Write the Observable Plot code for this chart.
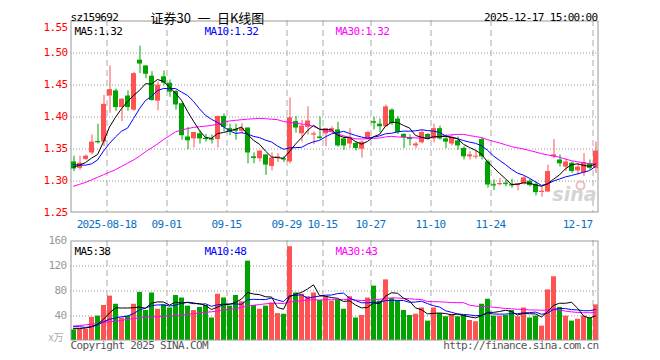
<!DOCTYPE html>
<html><head><meta charset="utf-8">
<script src="https://cdn.jsdelivr.net/npm/d3@7"></script>
<script src="https://cdn.jsdelivr.net/npm/@observablehq/plot@0.6"></script>
<style>
body{margin:0;background:#fff;}
#wrap{position:relative;width:660px;height:360px;overflow:hidden;background:#fff;}
#wrap svg{position:absolute;left:0;}
</style></head><body><div id="wrap"></div>
<script>
// ---------- data ----------
const dates = [
"2025-08-08","2025-08-11","2025-08-12","2025-08-13","2025-08-14","2025-08-15","2025-08-18","2025-08-19","2025-08-20","2025-08-21","2025-08-22","2025-08-25","2025-08-26","2025-08-27","2025-08-28","2025-08-29",
"2025-09-01","2025-09-02","2025-09-03","2025-09-04","2025-09-05","2025-09-08","2025-09-09","2025-09-10","2025-09-11","2025-09-12","2025-09-15","2025-09-16","2025-09-17","2025-09-18","2025-09-19","2025-09-22","2025-09-23","2025-09-24","2025-09-25","2025-09-26","2025-09-29","2025-09-30",
"2025-10-09","2025-10-10","2025-10-13","2025-10-14","2025-10-15","2025-10-16","2025-10-17","2025-10-20","2025-10-21","2025-10-22","2025-10-23","2025-10-24","2025-10-27","2025-10-28","2025-10-29","2025-10-30","2025-10-31",
"2025-11-03","2025-11-04","2025-11-05","2025-11-06","2025-11-07","2025-11-10","2025-11-11","2025-11-12","2025-11-13","2025-11-14","2025-11-17","2025-11-18","2025-11-19","2025-11-20","2025-11-21","2025-11-24","2025-11-25","2025-11-26","2025-11-27","2025-11-28",
"2025-12-01","2025-12-02","2025-12-03","2025-12-04","2025-12-05","2025-12-08","2025-12-09","2025-12-10","2025-12-11","2025-12-12","2025-12-15","2025-12-16","2025-12-17"];

const open = [1.329,1.319,1.333,1.343,1.361,1.360,1.432,1.440,1.414,1.432,
1.410,1.488,1.479,1.463,1.424,1.462,1.452,1.439,1.420,1.368,
1.365,1.373,1.366,1.365,1.364,1.400,1.381,1.380,1.377,1.382,
1.337,1.334,1.340,1.322,1.335,1.334,1.329,1.392,1.373,1.383,
1.371,1.368,1.373,1.377,1.379,1.365,1.357,1.358,1.349,1.365,
1.392,1.388,1.384,1.410,1.396,1.372,1.367,1.354,1.359,1.372,
1.365,1.381,1.365,1.357,1.362,1.350,1.337,1.338,1.364,1.329,
1.294,1.294,1.296,1.294,1.292,1.295,1.299,1.294,1.282,1.282,
1.337,1.332,1.321,1.327,1.315,1.312,1.326,1.319];

const high = [1.338,1.338,1.340,1.371,1.388,1.433,1.479,1.443,1.428,1.440,
1.469,1.510,1.479,1.470,1.454,1.471,1.457,1.441,1.420,1.383,
1.375,1.378,1.372,1.371,1.401,1.404,1.388,1.388,1.389,1.382,
1.343,1.346,1.340,1.343,1.342,1.337,1.429,1.400,1.394,1.415,
1.376,1.399,1.381,1.384,1.391,1.368,1.381,1.360,1.362,1.377,
1.399,1.396,1.418,1.412,1.400,1.373,1.371,1.360,1.379,1.373,
1.388,1.385,1.371,1.371,1.368,1.353,1.345,1.347,1.367,1.332,
1.301,1.303,1.300,1.302,1.295,1.306,1.302,1.298,1.290,1.324,
1.364,1.340,1.334,1.329,1.327,1.342,1.332,1.360];

const low = [1.314,1.316,1.331,1.340,1.357,1.353,1.405,1.408,1.392,1.408,
1.408,1.467,1.459,1.424,1.409,1.448,1.430,1.410,1.363,1.348,
1.351,1.357,1.360,1.357,1.351,1.376,1.370,1.363,1.373,1.326,
1.326,1.329,1.308,1.315,1.328,1.328,1.326,1.374,1.360,1.371,
1.356,1.363,1.353,1.374,1.352,1.347,1.350,1.346,1.335,1.363,
1.379,1.375,1.383,1.386,1.372,1.350,1.354,1.350,1.357,1.363,
1.359,1.363,1.350,1.354,1.347,1.332,1.332,1.333,1.332,1.288,
1.284,1.292,1.290,1.288,1.284,1.293,1.290,1.276,1.274,1.281,
1.334,1.321,1.314,1.311,1.308,1.306,1.316,1.311];

const close = [1.318,1.327,1.338,1.360,1.359,1.419,1.442,1.414,1.427,1.414,
1.467,1.482,1.466,1.425,1.449,1.452,1.438,1.418,1.370,1.362,
1.375,1.365,1.364,1.363,1.400,1.383,1.377,1.377,1.381,1.343,
1.336,1.346,1.324,1.335,1.337,1.332,1.398,1.382,1.385,1.393,
1.373,1.367,1.381,1.381,1.354,1.354,1.366,1.350,1.360,1.375,
1.391,1.384,1.415,1.389,1.375,1.367,1.364,1.357,1.375,1.364,
1.381,1.365,1.360,1.367,1.354,1.337,1.340,1.338,1.337,1.293,
1.293,1.295,1.295,1.293,1.295,1.304,1.292,1.281,1.283,1.314,
1.340,1.326,1.329,1.314,1.321,1.328,1.319,1.346];

const volume = [17,19,18,37,39,56,71,58,36,39,
58,77,48,76,50,57,52,72,68,55,
48,53,56,36,74,68,55,72,62,127,
56,50,55,60,43,42,150,76,74,70,
76,64,70,63,65,50,70,36,40,68,
87,63,97,67,64,48,40,42,52,31,
52,43,38,41,38,40,32,30,58,66,
39,39,40,48,38,52,36,39,23,81,
102,53,39,31,34,39,36,57];

// moving-average values before a full window exists
const ma5Lead  = [1.321,1.324,1.328,1.335];
const ma10Lead = [1.325,1.324,1.324,1.326,1.332,1.346,1.358,1.368,1.377];
const ma30Lead = [1.291,1.294,1.297,1.301,1.305,1.309,1.313,1.317,1.322,1.327,
1.332,1.338,1.345,1.351,1.357,1.364,1.370,1.376,1.379,1.381,
1.383,1.384,1.385,1.386,1.388,1.391,1.393,1.394,1.395];
const vma5Lead  = [19,19,20,22];
const vma10Lead = [22,22,21,22,25,30,34,36,38];
const vma30Lead = [23,24,25,26,27,29,30,31,32,34,35,36,37,38,38,39,39,40,41,42,43,44,45,46,47,49,50,51,53];

const priceTicks = [1.25,1.30,1.35,1.40,1.45,1.50,1.55];
const priceGrid  = [1.30,1.35,1.40,1.45,1.50];
const volTicks = [40,80,120,160];
const volGrid  = [40,80,120];
const tickDates  = ["2025-08-18","2025-09-01","2025-09-15","2025-09-29","2025-10-15","2025-10-27","2025-11-10","2025-11-24","2025-12-17"];
const tickLabels = ["2025-08-18","09-01","09-15","09-29","10-15","10-27","11-10","11-24","12-17"];

const code = "sz159692";
const title = "证券30\u2002一\u2002日K线图";
const stamp = "2025-12-17 15:00:00";
const priceLegend = ["MA5:1.32","MA10:1.32","MA30:1.32"];
const volLegend = ["MA5:38","MA10:48","MA30:43"];
const volUnit = "x万";
const copyright = "Copyright 2025 SINA.COM";
const url = "http://finance.sina.com.cn";

// ---------- build ----------
const RED = "#ff5252", GREEN = "#00a300";
const legendColors = ["#000000","#0000ff","#ff00ff"];
const legendDx = [4, 134, 265];
const MONO = "DejaVu Sans Mono";

function rolling(vals, n, lead) {
  return vals.map((_, i) => i < n - 1 ? lead[i] : d3.mean(vals.slice(i - n + 1, i + 1)));
}
const ma5 = rolling(close, 5, ma5Lead), ma10 = rolling(close, 10, ma10Lead), ma30 = rolling(close, 30, ma30Lead);
const vma5 = rolling(volume, 5, vma5Lead), vma10 = rolling(volume, 10, vma10Lead), vma30 = rolling(volume, 30, vma30Lead);

const rows = dates.map((d, i) => ({
  i, date: d, o: open[i], h: high[i], l: low[i], c: close[i], v: volume[i],
  ma5: ma5[i], ma10: ma10[i], ma30: ma30[i], vma5: vma5[i], vma10: vma10[i], vma30: vma30[i],
  col: close[i] >= open[i] ? RED : GREEN
}));
const dojis = rows.filter(d => Math.abs(d.o - d.c) < 0.002);
const ticks = tickDates.map((d, k) => ({i: dates.indexOf(d), label: tickLabels[k]}));
const N = dates.length;

const baseStyle = {background: "transparent", overflow: "visible", fontFamily: MONO, fontSize: "11px", letterSpacing: "-0.65px", color: "#000"};

const main = Plot.plot({
  width: 660, height: 236,
  marginLeft: 70, marginRight: 62, marginTop: 20, marginBottom: 24,
  x: {domain: [0, N], axis: null},
  y: {domain: [1.25, 1.55], axis: null},
  color: {type: "identity"},
  style: baseStyle,
  marks: [
    Plot.ruleY(priceGrid, {y: d => d, stroke: "#999", strokeDasharray: "1,2", dy: 0.5}),
    Plot.ruleX(ticks, {x: "i", stroke: "#aaa", strokeDasharray: "6,4", dx: 0.5}),
    Plot.frame({stroke: "#999", inset: 0.5}),
    Plot.text(["sina"], {frameAnchor: "bottom-right", dx: -2, dy: -12, textAnchor: "end", fontSize: 19, fontWeight: "bold", fontStyle: "italic", fontFamily: "DejaVu Sans", fill: "#d4d4d4"}),
    Plot.dot([0], {frameAnchor: "bottom-right", dx: -18, dy: -27, r: 4, stroke: "#e7c0c0", strokeWidth: 2, fill: "none"}),
    Plot.ruleX(rows, {x: d => d.i + 0.5, y1: "l", y2: "h", stroke: "col", dx: 0.5}),
    Plot.rect(rows, {x1: d => d.i + 1/6, x2: d => d.i + 1, y1: d => Math.min(d.o, d.c), y2: d => Math.max(d.o, d.c), fill: "col"}),
    Plot.ruleY(dojis, {y: "c", x1: d => d.i + 1/6, x2: d => d.i + 1, stroke: "col"}),
    Plot.line(rows, {x: d => d.i + 0.5, y: "ma30", stroke: "#ff00ff", strokeWidth: 1}),
    Plot.line(rows, {x: d => d.i + 0.5, y: "ma10", stroke: "#0000ff", strokeWidth: 1}),
    Plot.line(rows, {x: d => d.i + 0.5, y: "ma5", stroke: "#000000", strokeWidth: 1}),
    // price labels
    Plot.text(priceTicks.slice(0, -1), {y: d => d, text: d => d.toFixed(2), frameAnchor: "left", dx: -3, textAnchor: "end", fill: "#ff0000"}),
    Plot.text(priceTicks.slice(-1), {y: d => d, text: d => d.toFixed(2), frameAnchor: "left", dx: -3, dy: 7, textAnchor: "end", fill: "#ff0000"}),
    // date labels
    Plot.text(ticks.slice(0, -1), {x: "i", text: "label", frameAnchor: "bottom", dy: 15, fill: "#0a6fc2"}),
    Plot.text(ticks.slice(-1), {x: "i", text: "label", frameAnchor: "bottom", dy: 15, textAnchor: "end", fill: "#0a6fc2"}),
    // legend
    ...priceLegend.map((t, k) => Plot.text([t], {frameAnchor: "top-left", dx: legendDx[k], dy: 7, textAnchor: "start", fill: legendColors[k]})),
    // header
    Plot.text([code], {frameAnchor: "top-left", dy: -7, textAnchor: "start", fill: "#000"}),
    Plot.text([title], {frameAnchor: "top-left", dx: 80, dy: -7, textAnchor: "start", fill: "#000", fontFamily: "Noto Sans CJK SC", fontSize: 13}),
    Plot.text([stamp], {frameAnchor: "top-right", dx: -1, dy: -7, textAnchor: "end", fill: "#000"})
  ]
});

const vol = Plot.plot({
  width: 660, height: 124,
  marginLeft: 70, marginRight: 62, marginTop: 4, marginBottom: 20,
  x: {domain: [0, N], axis: null},
  y: {domain: [0, 160], axis: null},
  color: {type: "identity"},
  style: baseStyle,
  marks: [
    Plot.ruleY(volGrid, {y: d => d, stroke: "#999", strokeDasharray: "1,2", dy: 0.5}),
    Plot.ruleX(ticks, {x: "i", stroke: "#aaa", strokeDasharray: "6,4", dx: 0.5}),
    Plot.rect(rows, {x1: d => d.i + 1/6, x2: d => d.i + 1, y1: d => 0, y2: "v", fill: "col"}),
    Plot.frame({stroke: "#999", inset: 0.5}),
    Plot.line(rows, {x: d => d.i + 0.5, y: "vma30", stroke: "#ff00ff", strokeWidth: 1}),
    Plot.line(rows, {x: d => d.i + 0.5, y: "vma10", stroke: "#0000ff", strokeWidth: 1}),
    Plot.line(rows, {x: d => d.i + 0.5, y: "vma5", stroke: "#000000", strokeWidth: 1}),
    Plot.text(volTicks, {y: d => d, text: d => String(d), frameAnchor: "left", dx: -4, textAnchor: "end", fill: "#999"}),
    Plot.text([volUnit], {frameAnchor: "bottom-left", dx: -7, dy: 0, textAnchor: "end", fill: "#aaa", fontFamily: "Noto Sans CJK SC", fontSize: 10}),
    ...volLegend.map((t, k) => Plot.text([t], {frameAnchor: "top-left", dx: legendDx[k], dy: 7, textAnchor: "start", fill: legendColors[k]})),
    Plot.text([copyright], {frameAnchor: "bottom-left", dy: 8, textAnchor: "start", fill: "#555"}),
    Plot.text([url], {frameAnchor: "bottom-right", dy: 8, textAnchor: "end", fill: "#555"})
  ]
});

main.style.top = "0px";
vol.style.top = "236px";
const wrap = document.getElementById("wrap");
wrap.appendChild(main);
wrap.appendChild(vol);
d3.select(main).selectAll("text").filter(function(){ return this.textContent === title; }).style("letter-spacing", "0px");
d3.selectAll("svg text").filter(function(){ return this.textContent === "sina" || this.textContent === volUnit; }).style("letter-spacing", "0px");
</script></body></html>
